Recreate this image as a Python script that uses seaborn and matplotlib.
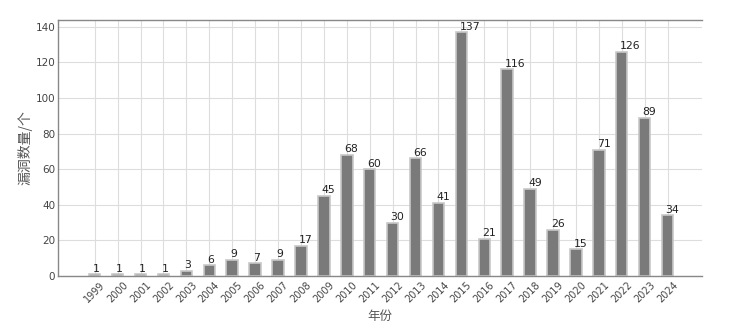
import matplotlib
matplotlib.use("Agg")
import matplotlib.pyplot as plt
import seaborn as sns
import pandas as pd

years = [str(y) for y in range(1999, 2025)]
counts = [1, 1, 1, 1, 3, 6, 9, 7, 9, 17, 45, 68, 60, 30, 66, 41, 137, 21, 116, 49, 26, 15, 71, 126, 89, 34]
y_ticks = [0, 20, 40, 60, 80, 100, 120, 140]

sns.set_theme(style="whitegrid")
plt.rcParams['font.family'] = ['DejaVu Sans', 'Noto Sans CJK SC']

df = pd.DataFrame({"年份": years, "数量": counts})

fig = plt.figure(figsize=(7.54, 3.32), dpi=100)
ax = fig.add_axes([0.077, 0.169, 0.854, 0.771])
sns.barplot(data=df, x="年份", y="数量", color="#7a7a7a", saturation=1,
            width=0.5, edgecolor="#c8c8c8", linewidth=1.2, ax=ax)

ax.set_xlim(-1.6, 26.5)
ax.set_ylim(0, max(counts) * 1.05)
ax.set_yticks(y_ticks)
ax.grid(True, color="#dddddd", linewidth=0.8)
ax.set_axisbelow(True)

for i, v in enumerate(counts):
    ax.text(i - 0.09, v + 0.3, str(v), ha="left", va="bottom", fontsize=7.8,
            color="#222222")

for s in ["left", "bottom", "top"]:
    ax.spines[s].set_visible(True)
    ax.spines[s].set_color("#888888")
    ax.spines[s].set_linewidth(1.0)
ax.spines["right"].set_visible(False)

ax.tick_params(axis="x", labelrotation=45, labelsize=7, colors="#444444", pad=3, length=0)
ax.tick_params(axis="y", labelsize=7.5, colors="#444444", pad=2, length=0)
for lbl in ax.get_xticklabels():
    lbl.set_ha("center")

ax.set_xlabel("年份", fontsize=9, color="#555555", labelpad=4,
              family=['Noto Sans CJK SC', 'DejaVu Sans'])
ax.set_ylabel("漏洞数量/个", fontsize=10, color="#555555", labelpad=2,
              family=['Noto Sans CJK SC', 'DejaVu Sans'])

fig.savefig("out.png", dpi=100)
